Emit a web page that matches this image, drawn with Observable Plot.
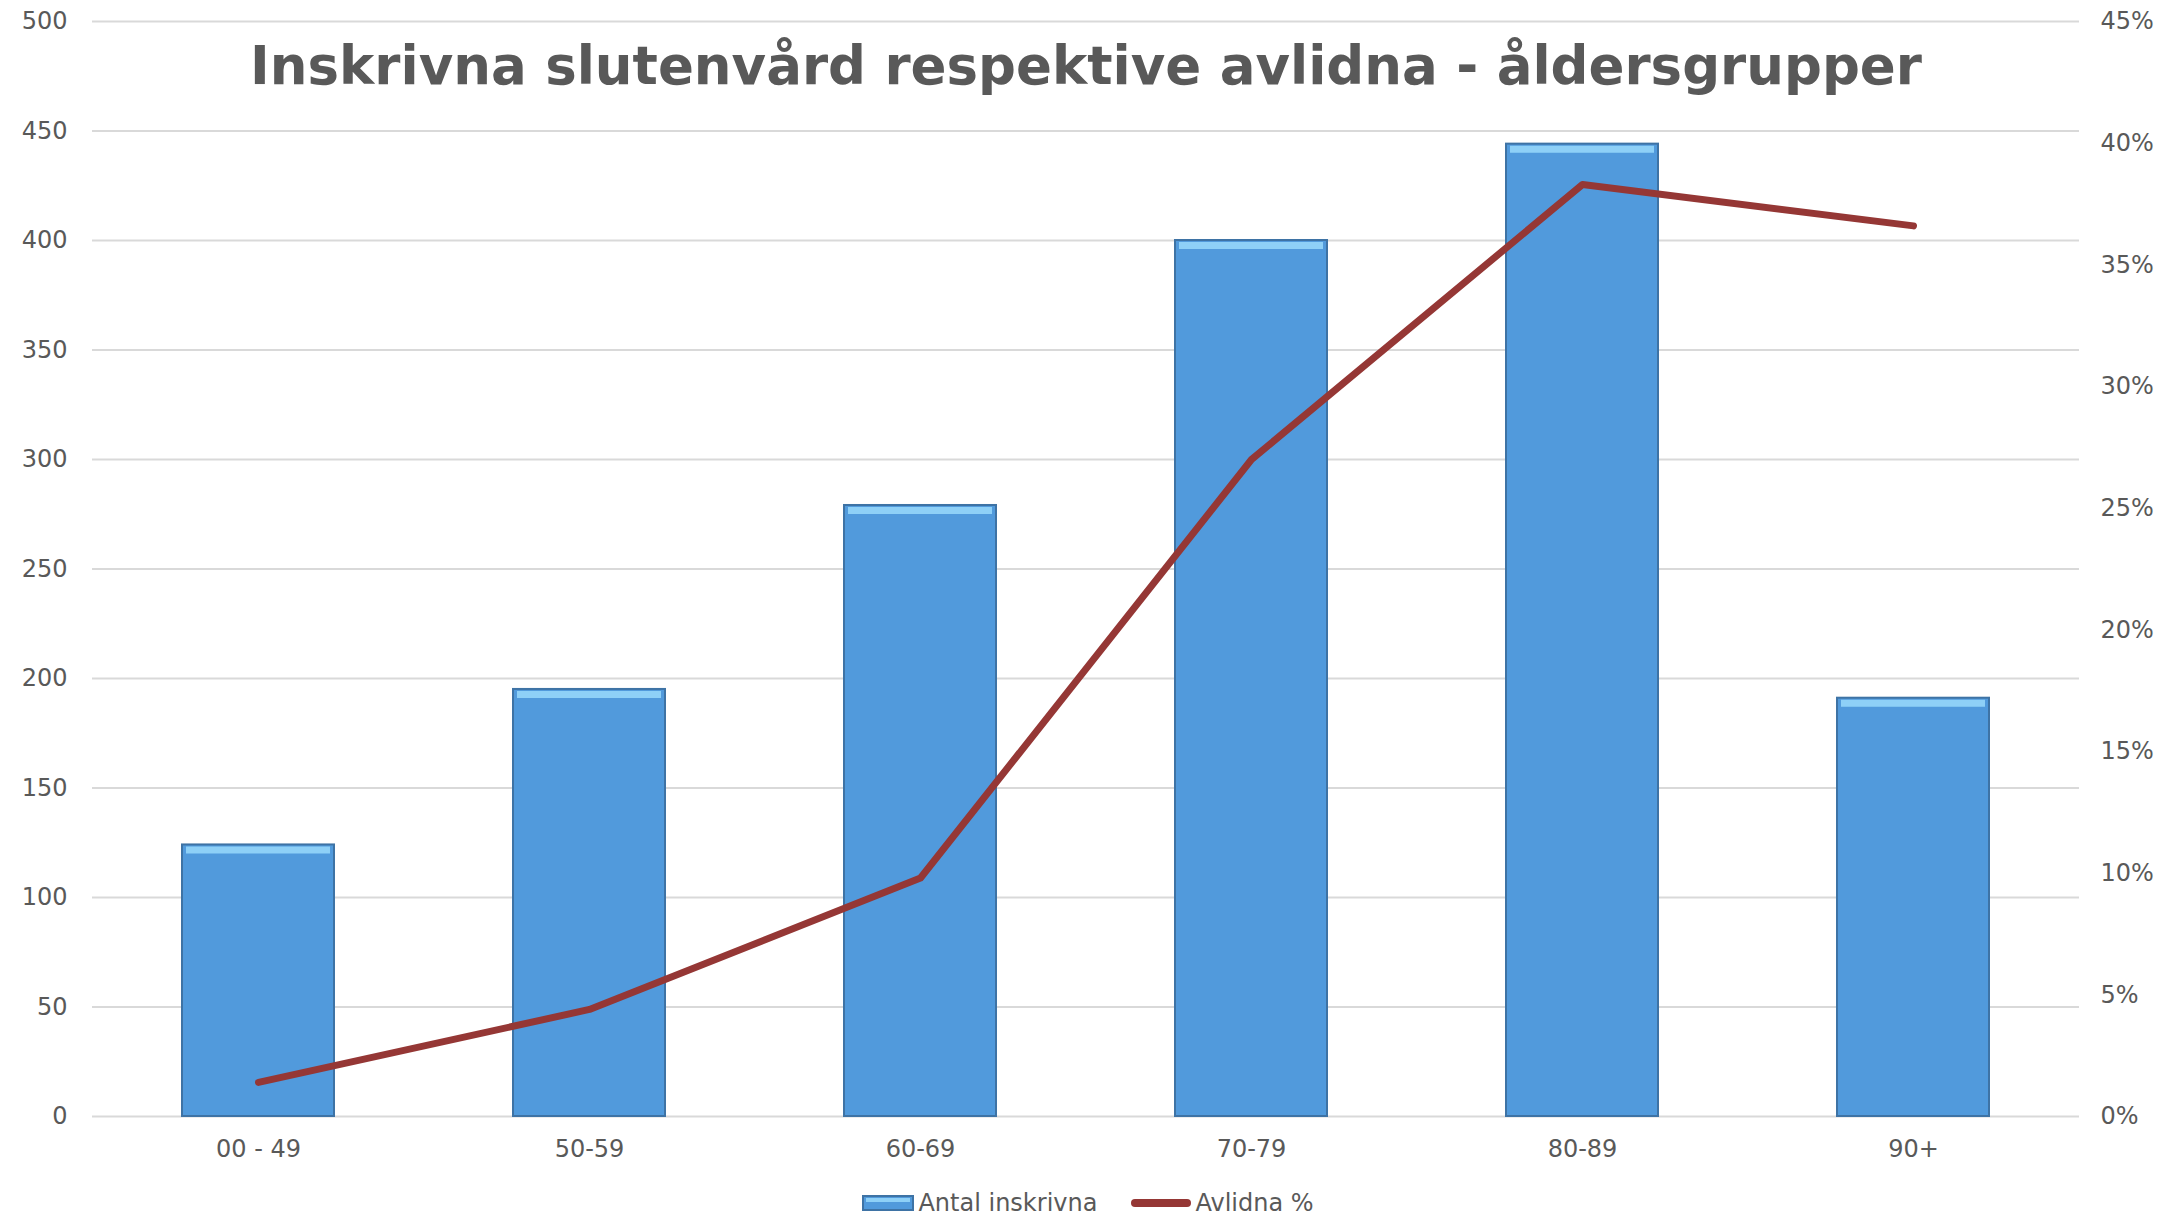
<!DOCTYPE html>
<html><head><meta charset="utf-8">
<script src="https://cdn.jsdelivr.net/npm/d3@7"></script>
<script src="https://cdn.jsdelivr.net/npm/@observablehq/plot@0.6"></script>
<style>
html,body{margin:0;padding:0;background:#fff;}
#wrap{position:relative;width:2176px;height:1218px;font-family:"DejaVu Sans",Verdana,sans-serif;color:#595959;}
#legend{position:absolute;left:0;top:1189px;width:2176px;display:flex;justify-content:center;align-items:center;font-size:24px;color:#595959;}
.item{display:flex;align-items:center;margin:0 17px;}
.item svg{margin-right:4px;}
</style></head>
<body><div id="wrap"><div id="chart"></div><div id="legend"></div></div>
<script>
const categories = ["00 - 49","50-59","60-69","70-79","80-89","90+"];
const antalInskrivna = [124,195,279,400,444,191];
const avlidnaPct = [1.4,4.4,9.8,27.0,38.3,36.6];
const leftTicks = [0,50,100,150,200,250,300,350,400,450,500];
const rightTicks = [0,5,10,15,20,25,30,35,40,45];
const title = "Inskrivna slutenvård respektive avlidna - åldersgrupper";
const seriesNames = ["Antal inskrivna","Avlidna %"];

const yMax = 500, pMax = 45;
const toY = p => p * yMax / pMax;
const rows = categories.map((c,i)=>({cat:c, n:antalInskrivna[i], pct:avlidnaPct[i], py:toY(avlidnaPct[i])}));

const W = 2176, H = 1178;
const chart = Plot.plot({
  width: W, height: H,
  marginTop: 21, marginBottom: H-1116, marginLeft: 92, marginRight: 97,
  style: {fontFamily: '"DejaVu Sans", Verdana, sans-serif', fontSize: "24px", color: "#595959", background: "#fff"},
  x: {domain: categories, paddingInner: 0.54, paddingOuter: 0.27, label: null},
  y: {domain: [0, yMax], label: null},
  marks: [
    Plot.gridY(leftTicks, {stroke: "#D9D9D9", strokeOpacity: 1, strokeWidth: 2}),
    Plot.axisY(leftTicks, {anchor: "left", tickSize: 0, tickPadding: 25, label: null, fill: "#595959"}),
    Plot.axisY(rightTicks.map(toY), {anchor: "right", tickSize: 0, tickPadding: 21, label: null, fill: "#595959", tickFormat: d => Math.round(d*pMax/yMax) + "%", textAnchor: "start"}),
    Plot.axisX({tickSize: 0, tickPadding: 23, label: null, fill: "#595959"}),
    Plot.barY(rows, {x: "cat", y: "n", fill: "#519ADC", stroke: "#3E73A5", strokeWidth: 2}),
    Plot.tickY(rows, {x: "cat", y: "n", stroke: "#8ED0F7", strokeWidth: 7, dy: 5, inset: 4}),
    Plot.line(rows, {x: "cat", y: "py", stroke: "#953735", strokeWidth: 7, strokeLinecap: "round", strokeLinejoin: "round"}),
    Plot.text([title], {frameAnchor: "top", dy: 46, text: d => d, fontSize: 53, fontWeight: "bold", fill: "#595959", lineAnchor: "middle"})
  ]
});
document.getElementById("chart").appendChild(chart);

const legend = document.getElementById("legend");
legend.innerHTML = `
<div class="item"><svg width="52" height="16"><rect x="1" y="1" width="50" height="14" fill="#519ADC" stroke="#3E73A5" stroke-width="2"/><rect x="4" y="3" width="44" height="4" fill="#8ED0F7"/></svg><span>${seriesNames[0]}</span></div>
<div class="item"><svg width="60" height="16"><line x1="4" y1="8" x2="56" y2="8" stroke="#953735" stroke-width="8" stroke-linecap="round"/></svg><span>${seriesNames[1]}</span></div>`;
</script></body></html>
